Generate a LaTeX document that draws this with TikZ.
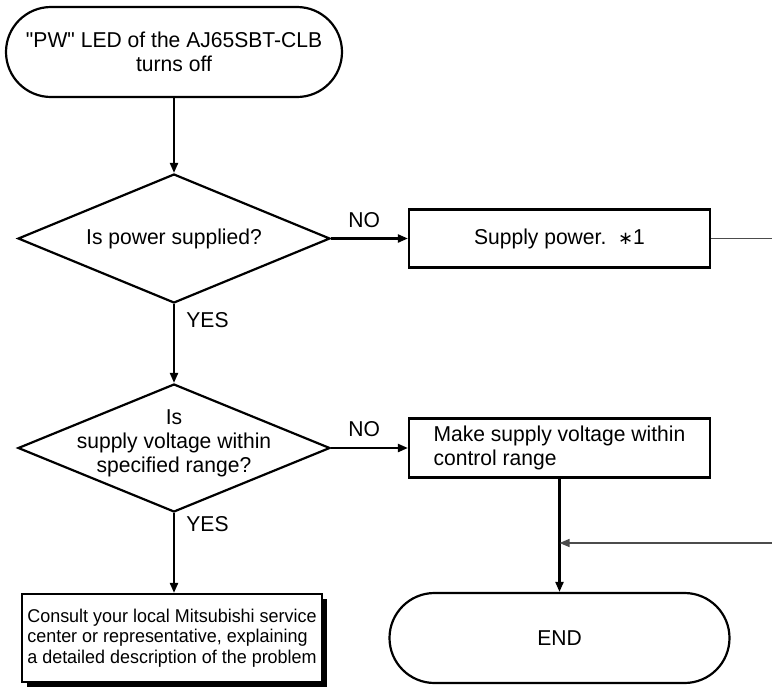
\documentclass[tikz,border=0pt]{standalone}
\usepackage{fontspec}
\setmainfont{Liberation Sans}[FakeStretch=0.98]
\newfontfamily\boxfont{Liberation Sans}[FakeStretch=0.97]
\newfontfamily\symfont{DejaVu Sans}
\newcommand\straightquote{\XeTeXglyph\XeTeXcharglyph"22\relax}
\usetikzlibrary{shapes.geometric,shapes.misc,arrows.meta,shadows}
\begin{document}
\begin{tikzpicture}[x=1pt,y=-1pt,
  line width=2.2pt,
  every node/.style={font=\fontsize{21.5}{24}\selectfont},
  term/.style={draw, rounded rectangle, minimum width=336pt, minimum height=90pt, inner sep=0pt, align=center},
  decision/.style={draw, diamond, minimum width=312pt, minimum height=129pt, inner sep=0pt},
  proc/.style={draw, rectangle, minimum width=301pt, minimum height=58pt},
  arr/.style={-{Triangle[length=10pt,width=8pt]}},
  grayline/.style={line width=1.3pt, draw=black!70},
  yeslbl/.style={anchor=base west, xshift=8pt},
  nolbl/.style={above=6.5pt, pos=0.43}
]
\useasboundingbox (0,0) rectangle (772,689);

\node[term] (start) at (174,52) {\straightquote PW\straightquote{} LED of the AJ65SBT-CLB\\turns off};
\node[decision, label={center:Is power supplied?}] (d1) at (174,238.5) {};
\node[proc] (b1) at (559.5,238.5) {Supply power.\ \ {\symfont\fontsize{18}{18}\selectfont ∗}1};
\coordinate (r1) at (772,238.5);

\node[decision, minimum height=128pt, label={[align=center, yshift=5pt]center:Is\\supply voltage within\\specified range?}] (d2) at (174,448) {};
\node[proc, minimum height=59pt, align=left] (b2) at (559.5,448) {Make supply voltage within\\control range};

\node[draw, fill=white, drop shadow={shadow xshift=5pt, shadow yshift=-5pt, opacity=1, fill=black},
      minimum width=300pt, minimum height=88pt, inner xsep=2pt, align=left,
      font=\boxfont\fontsize{18.5}{20.5}\selectfont] (b3) at (172,638)
  {Consult your local Mitsubishi service\\center or representative, explaining\\a detailed description of the problem};

\node[term, minimum width=340pt] (end) at (559.5,638) {END};
\coordinate (r2) at (772,543);
\coordinate (j) at (b2.south |- r2);

\draw[arr] (start.south) -- (d1.north);
\draw[arr] (d1.east) -- node[nolbl]{NO} (b1.west);
\draw[grayline] (b1.east) -- (r1);
\draw[arr] (d1.south) -- node[yeslbl, pos=0.3]{YES} (d2.north);
\draw[arr] (d2.east) -- node[nolbl]{NO} (b2.west);
\draw[arr] (b2.south) -- (end.north);
\draw[grayline, arr] (r2) -- (j);
\draw[arr] (d2.south) -- node[yeslbl, pos=0.23]{YES} (d2.south |- b3.north);
\end{tikzpicture}
\end{document}
